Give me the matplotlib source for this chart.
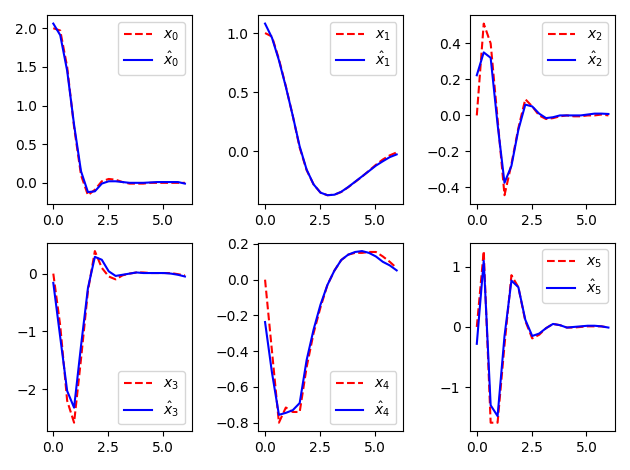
import numpy as np
import matplotlib
matplotlib.use("Agg")
import matplotlib.pyplot as plt

t = np.linspace(0, 6, 20)

x0_true = [2.0, 1.97, 1.5, 0.72, 0.1, -0.16, -0.09, 0.02, 0.05, 0.04,
           0.01, -0.01, -0.01, -0.01, 0.0, 0.0, 0.0, 0.0, 0.0, 0.0]
x0_hat = [2.06, 1.91, 1.45, 0.75, 0.15, -0.12, -0.11, -0.01, 0.02, 0.02,
          0.01, 0.0, 0.0, 0.0, 0.005, 0.01, 0.01, 0.01, 0.01, -0.01]

x1_true = [1.0, 0.97, 0.78, 0.55, 0.30, 0.03, -0.16, -0.28, -0.35, -0.372,
           -0.368, -0.345, -0.305, -0.26, -0.215, -0.165, -0.115, -0.07, -0.035, -0.01]
x1_hat = [1.08, 0.96, 0.77, 0.545, 0.30, 0.04, -0.155, -0.28, -0.35, -0.372,
          -0.368, -0.343, -0.303, -0.258, -0.213, -0.168, -0.122, -0.085, -0.05, -0.027]

x2_true = [0.0, 0.51, 0.40, -0.02, -0.443, -0.27, -0.07, 0.09, 0.05, 0.0,
           -0.02, -0.015, -0.005, 0.0, -0.005, -0.005, 0.0, 0.0, 0.005, 0.0]
x2_hat = [0.223, 0.35, 0.32, -0.05, -0.374, -0.28, -0.08, 0.06, 0.05, 0.01,
          -0.015, -0.01, 0.0, 0.0, 0.0, 0.0, 0.005, 0.01, 0.01, 0.008]

x3_true = [0.0, -0.9, -2.2, -2.58, -1.48, -0.3, 0.39, 0.10, -0.05, -0.10,
           -0.03, 0.0, 0.02, 0.02, 0.01, 0.01, 0.01, 0.01, -0.01, -0.03]
x3_hat = [-0.16, -1.1, -2.03, -2.32, -1.25, -0.25, 0.29, 0.24, 0.04, -0.04,
          -0.02, 0.0, 0.02, 0.01, 0.01, 0.01, 0.01, 0.0, -0.02, -0.05]

x4_true = [0.0, -0.4, -0.80, -0.715, -0.74, -0.74, -0.49, -0.30, -0.155, -0.03,
           0.05, 0.11, 0.14, 0.15, 0.15, 0.155, 0.155, 0.13, 0.10, 0.065]
x4_hat = [-0.237, -0.52, -0.756, -0.745, -0.73, -0.69, -0.45, -0.28, -0.14, -0.03,
          0.05, 0.11, 0.14, 0.155, 0.16, 0.15, 0.13, 0.10, 0.08, 0.052]

x5_true = [0.0, 1.26, -1.59, -1.59, -0.3, 0.86, 0.66, 0.10, -0.19, -0.13,
           -0.02, 0.05, 0.03, -0.01, -0.01, 0.0, 0.01, 0.01, 0.01, -0.01]
x5_hat = [-0.28, 1.10, -1.30, -1.48, -0.15, 0.77, 0.66, 0.12, -0.15, -0.11,
          -0.02, 0.05, 0.03, -0.01, 0.0, 0.01, 0.02, 0.02, 0.01, -0.01]

trues = [x0_true, x1_true, x2_true, x3_true, x4_true, x5_true]
hats = [x0_hat, x1_hat, x2_hat, x3_hat, x4_hat, x5_hat]
legend_locs = ["upper right", "upper right", "upper right",
               "lower right", "lower right", "upper right"]

fig, axes = plt.subplots(2, 3, figsize=(6.3, 4.7), dpi=100)
for i, ax in enumerate(axes.flat):
    ax.plot(t, trues[i], "r--", label=r"$x_{%d}$" % i)
    ax.plot(t, hats[i], "b-", label=r"$\hat{x}_{%d}$" % i)
    ax.legend(loc=legend_locs[i])
fig.tight_layout()
fig.savefig("out.png", dpi=100)
